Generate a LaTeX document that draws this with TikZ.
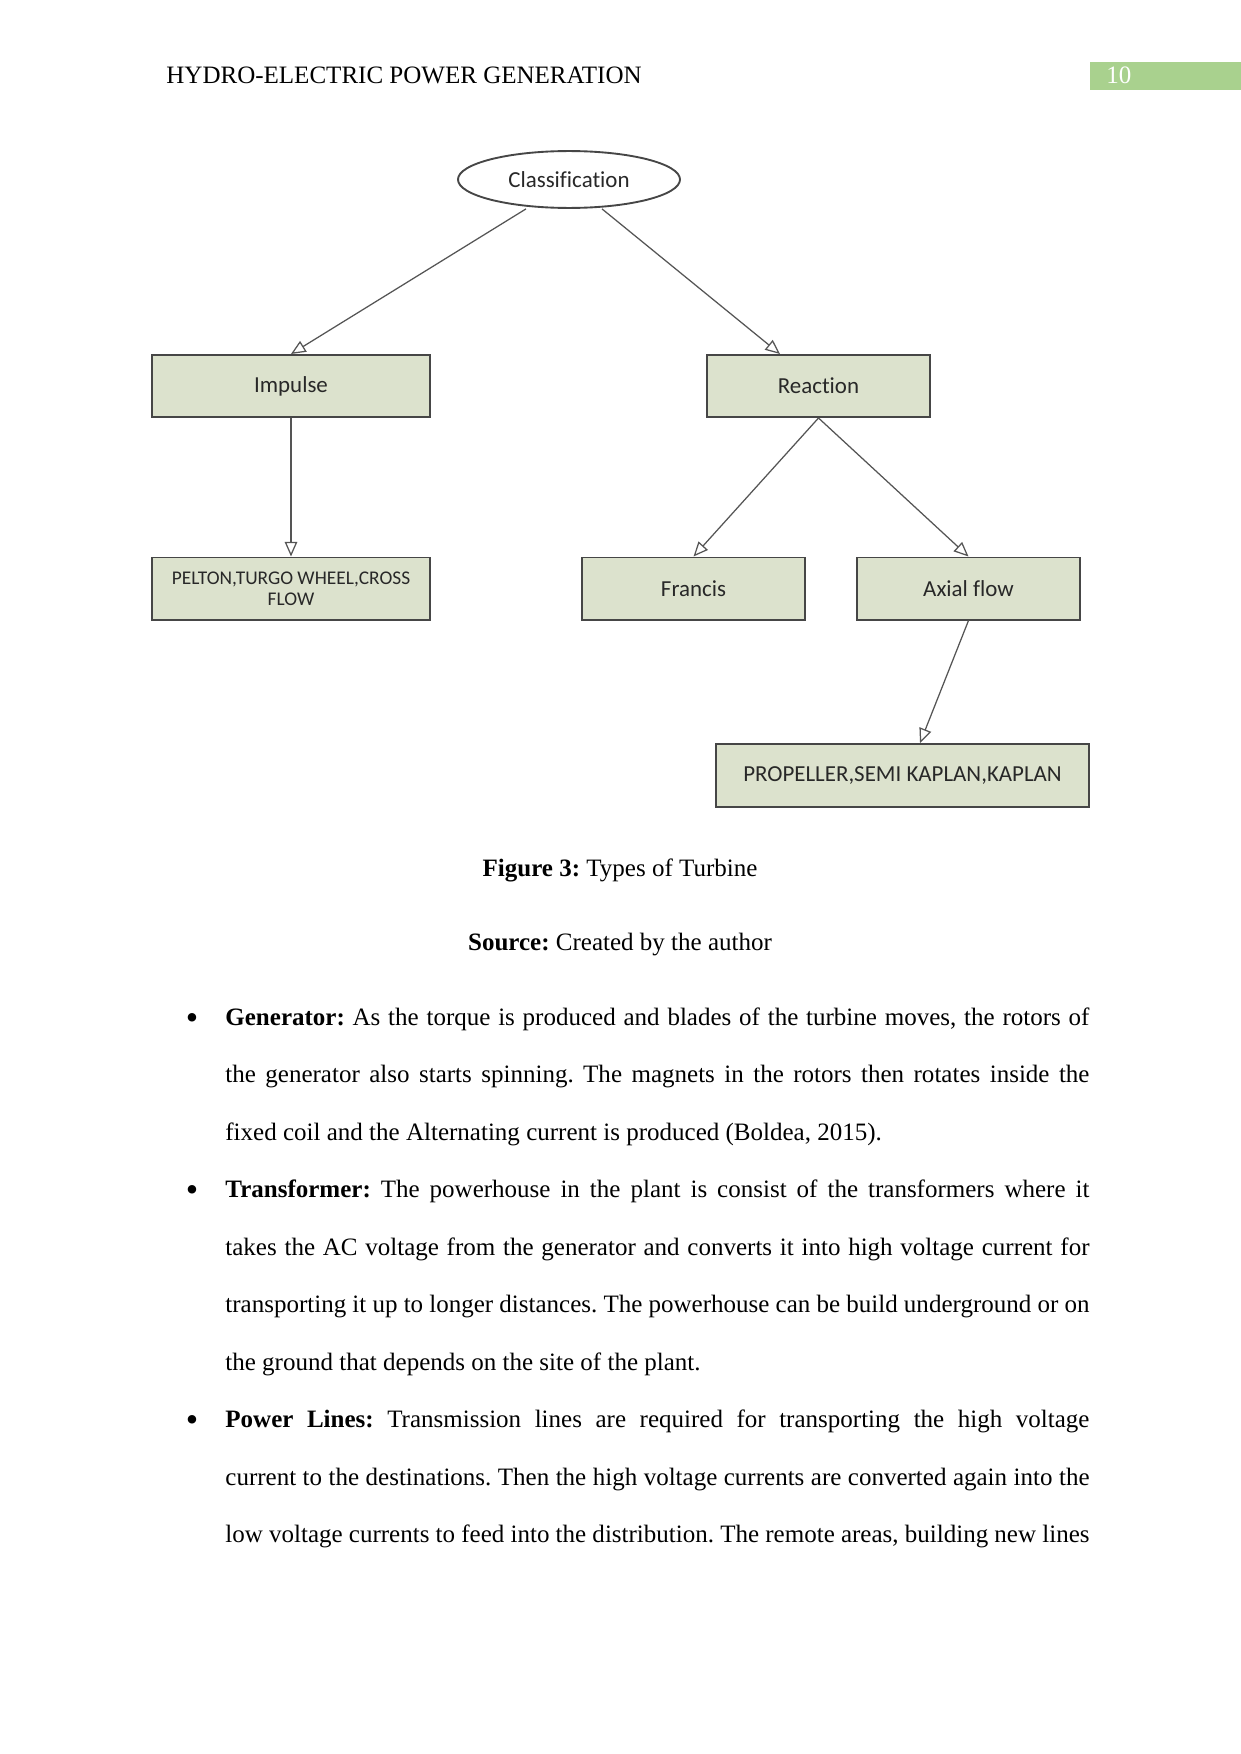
\documentclass[tikz,border=0pt]{standalone}
\usepackage{fontspec}
\setmainfont{Liberation Serif}
\newfontfamily\boxfont[Ligatures=NoCommon]{Carlito}
\usetikzlibrary{arrows.meta,shapes.geometric,calc}
\definecolor{boxfill}{RGB}{220,226,205}
\definecolor{boxline}{RGB}{70,70,70}
\definecolor{hdrgreen}{RGB}{169,209,142}
\definecolor{linkgray}{RGB}{85,85,85}
\definecolor{boxtext}{RGB}{40,40,40}
\frenchspacing
\begin{document}
\begin{tikzpicture}[x=0.4797pt,y=-0.4797pt,
  tbox/.style={draw=boxline,line width=0.9pt,fill=boxfill,inner sep=0pt,
    minimum height=29.8pt,font=\boxfont\fontsize{11}{13}\selectfont,text=boxtext,align=center},
  wbox/.style={tbox,minimum width=133.4pt},
  nbox/.style={tbox,minimum width=107pt},
  link/.style={draw=linkgray,line width=0.6pt,-{Triangle[open,length=7pt,width=6pt]}},
  bodyline/.style={anchor=base west,inner sep=0pt,font=\fontsize{12}{14}\selectfont},
  jline/.style={bodyline},
  bul/.style={anchor=center,inner sep=0pt,font=\fontsize{17}{18}\selectfont},
  captext/.style={anchor=base,inner sep=0pt,font=\fontsize{12}{14}\selectfont}]
\useasboundingbox (0,0) rectangle (1241,1754);
\fill[white] (0,0) rectangle (1241,1754);

% header
\node[anchor=base west,inner sep=0pt,font=\fontsize{12}{14}\selectfont] (hdr) at (166,84) {HYDRO-ELECTRIC POWER GENERATION};
\node[anchor=north west,fill=hdrgreen,inner sep=0pt,minimum width=72.4pt,minimum height=13.4pt] (pgbox) at (1090,62) {};
\node[anchor=base west,inner sep=0pt,text=white,font=\fontsize{12}{14}\selectfont] (pgnum) at (1106,84) {10};

% diagram
\node[ellipse,draw=boxline,line width=0.9pt,fill=white,inner sep=0pt,minimum width=106.5pt,minimum height=27.3pt,
  font=\boxfont\fontsize{11}{13}\selectfont,text=boxtext] (cls) at (569,179.5) {Classification};
\node[wbox] (imp) at (291,386) {Impulse};
\node[nbox] (rea) at (818.5,386) {Reaction};
\node[wbox,font=\boxfont\fontsize{9.3}{10.2}\selectfont] (pel) at (291,588.5) {PELTON,TURGO WHEEL,CROSS\\FLOW};
\node[nbox] (fra) at (693.5,588.5) {Francis};
\node[nbox] (axi) at (968.5,588.5) {Axial flow};
\node[tbox,minimum width=179pt,minimum height=30.2pt] (pro) at (902.5,775.5) {PROPELLER,SEMI KAPLAN,KAPLAN};

\draw[link] ($(cls.south)+(-43,0)$) -- (imp.north);
\draw[link] ($(cls.south)+(33,0)$) -- ($(rea.north)+(-38.5,0)$);
\draw[link] (imp.south) -- (pel.north);
\draw[link] (rea.south) -- (fra.north);
\draw[link] (rea.south) -- (axi.north);
\draw[link] (axi.south) -- ($(pro.north)+(17.5,0)$);

% captions
\node[captext] (fig) at (620,876) {\textbf{Figure 3:} Types of Turbine};
\node[captext] (src) at (620,950) {\textbf{Source:} Created by the author};

% body
\node[bul] (b1) at (192,1021.5) {•};
\node[bul] (b2) at (192,1194) {•};
\node[bul] (b3) at (192,1424) {•};
\node[jline] (l1) at (225,1025) {\makebox[414.5pt][s]{\textbf{Generator:} As the torque is produced and blades of the turbine moves, the rotors of}};
\node[jline] (l2) at (225,1082.5) {\makebox[414.5pt][s]{the generator also starts spinning. The magnets in the rotors then rotates inside the}};
\node[bodyline] (l3) at (225,1140) {fixed coil and the Alternating current is produced (Boldea, 2015).};
\node[jline] (l4) at (225,1197.5) {\makebox[414.5pt][s]{\textbf{Transformer:} The powerhouse in the plant is consist of the transformers where it}};
\node[jline] (l5) at (225,1255) {\makebox[414.5pt][s]{takes the AC voltage from the generator and converts it into high voltage current for}};
\node[jline] (l6) at (225,1312.5) {\makebox[414.5pt][s]{transporting it up to longer distances. The powerhouse can be build underground or on}};
\node[bodyline] (l7) at (225,1370) {the ground that depends on the site of the plant.};
\node[jline] (l8) at (225,1427.5) {\makebox[414.5pt][s]{\textbf{Power Lines:} Transmission lines are required for transporting the high voltage}};
\node[jline] (l9) at (225,1485) {\makebox[414.5pt][s]{current to the destinations. Then the high voltage currents are converted again into the}};
\node[jline] (l10) at (225,1542.5) {\makebox[414.5pt][s]{low voltage currents to feed into the distribution. The remote areas, building new lines}};
\end{tikzpicture}
\end{document}
